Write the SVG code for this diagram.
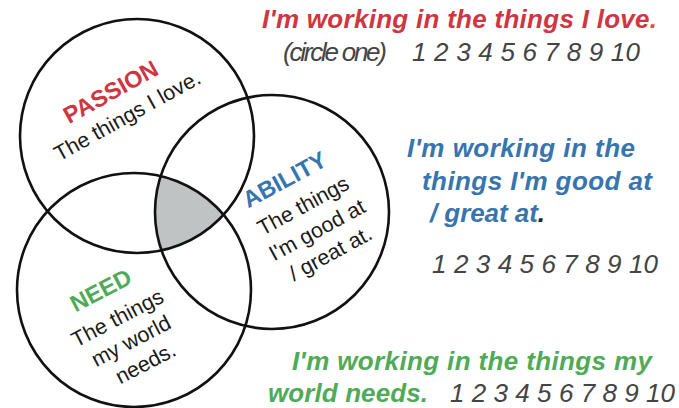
<svg xmlns="http://www.w3.org/2000/svg" width="679" height="408" viewBox="0 0 679 408">
<style>
.ring{fill:none;stroke:#111;stroke-width:2.6}
.lbl{font-family:"Liberation Sans",Arial,sans-serif;font-weight:bold;font-size:23.5px;text-anchor:middle}
.body{font-family:"Liberation Sans",Arial,sans-serif;font-size:21.5px;fill:#1a1a1a;text-anchor:middle}
.head{font-family:"Liberation Sans",Arial,sans-serif;font-weight:bold;font-style:italic;font-size:26px}
.num{font-family:"Liberation Sans",Arial,sans-serif;font-style:italic;font-size:26px;fill:#444}
.red{fill:#cf3642}.blue{fill:#3775ae}.green{fill:#4fab57}
</style>
<defs>
<clipPath id="clipA"><circle cx="272" cy="212" r="117"/></clipPath>
<clipPath id="clipN"><circle cx="134" cy="290" r="117"/></clipPath>
</defs>
<g id="overlap" clip-path="url(#clipA)">
<g clip-path="url(#clipN)">
<circle cx="137" cy="136" r="117" fill="#c0c3c3"/>
</g>
</g>
<g id="passion">
<circle class="ring" cx="137" cy="136" r="117"/>
<g transform="translate(130.8,122) rotate(-29)">
<text class="lbl red" x="-3" y="-28">PASSION</text>
<text class="body" x="0" y="0">The things I love.</text>
</g>
</g>
<g id="ability">
<circle class="ring" cx="272" cy="212" r="117"/>
<g transform="translate(306.7,212) rotate(-28.5)">
<text class="lbl blue" x="-4" y="-31">ABILITY</text>
<text class="body" x="0" y="0">The things</text>
<text class="body" x="0.5" y="28">I'm good at</text>
<text class="body" x="1" y="55">/ great at.</text>
</g>
</g>
<g id="need">
<circle class="ring" cx="134" cy="290" r="117"/>
<g transform="translate(120.8,324.5) rotate(-27.5)">
<text class="lbl green" x="-2" y="-31.5">NEED</text>
<text class="body" x="0" y="0">The things</text>
<text class="body" x="1.5" y="26.5">my world</text>
<text class="body" x="4" y="53">needs.</text>
</g>
</g>
<g id="passion-rating">
<text class="head red" x="262" y="28" textLength="395" lengthAdjust="spacing">I'm working in the things I love<tspan fill="#e8532b">.</tspan></text>
<text class="num" x="283" y="61" font-size="20" textLength="104" lengthAdjust="spacing">(circle one)</text>
<text class="num" x="412" y="61" textLength="228" lengthAdjust="spacing">1 2 3 4 5 6 7 8 9 10</text>
</g>
<g id="ability-rating">
<text class="head blue" x="407" y="157" textLength="228" lengthAdjust="spacing">I'm working in the</text>
<text class="head blue" x="422" y="190" textLength="230" lengthAdjust="spacing">things I'm good at</text>
<text class="head blue" x="430" y="222" textLength="115" lengthAdjust="spacing">/ great at<tspan fill="#222">.</tspan></text>
<text class="num" x="432" y="273" textLength="226" lengthAdjust="spacing">1 2 3 4 5 6 7 8 9 10</text>
</g>
<g id="need-rating">
<text class="head green" x="292" y="370" textLength="360" lengthAdjust="spacing">I'm working in the things my</text>
<text class="head green" x="268" y="402" textLength="160" lengthAdjust="spacing">world needs.</text>
<text class="num" x="450" y="402" textLength="225" lengthAdjust="spacing">1 2 3 4 5 6 7 8 9 10</text>
</g>
</svg>
